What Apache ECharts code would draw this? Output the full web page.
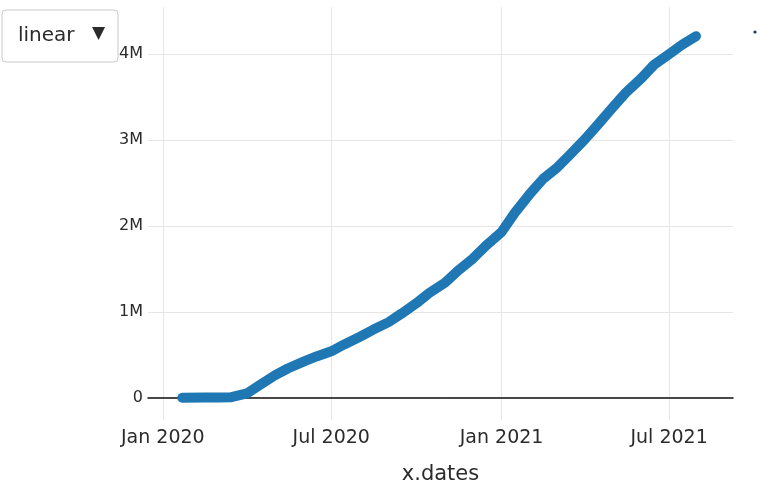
<!DOCTYPE html>
<html>
<head>
<meta charset="utf-8">
<script src="https://cdn.jsdelivr.net/npm/echarts@6/dist/echarts.min.js"></script>
<style>
  html, body { margin: 0; padding: 0; background: #fff; }
  #main { width: 765px; height: 491px; }
</style>
</head>
<body>
<div id="main"></div>
<script>
var dates = [
  '2020-01-22', '2020-02-15', '2020-03-01', '2020-03-15', '2020-04-01', '2020-04-15',
  '2020-05-01', '2020-05-15', '2020-06-01', '2020-06-15', '2020-07-01', '2020-07-15',
  '2020-08-01', '2020-08-15', '2020-09-01', '2020-09-15', '2020-10-01', '2020-10-15',
  '2020-11-01', '2020-11-15', '2020-12-01', '2020-12-15', '2021-01-01', '2021-01-15',
  '2021-02-01', '2021-02-15', '2021-03-01', '2021-03-15', '2021-04-01', '2021-04-15',
  '2021-05-01', '2021-05-15', '2021-06-01', '2021-06-15', '2021-07-01', '2021-07-15',
  '2021-07-30'
];
// values in millions
var values = [
  0, 0.002, 0.003, 0.006, 0.05, 0.15,
  0.26, 0.34, 0.42, 0.48, 0.54, 0.62,
  0.71, 0.79, 0.88, 0.98, 1.10, 1.22,
  1.34, 1.48, 1.62, 1.77, 1.93, 2.15,
  2.38, 2.55, 2.67, 2.82, 3.01, 3.18,
  3.38, 3.55, 3.72, 3.88, 4.00, 4.11,
  4.21
];
var yTicks = [0, 1, 2, 3, 4];
var menuLabel = 'linear';
var xTitle = 'x.dates';

var FONT = 'DejaVu Sans';
var TXT = '#2b2b2b';
var myChart = echarts.init(document.getElementById('main'));

var seriesData = [];
for (var i = 0; i < dates.length; i++) {
  seriesData.push([dates[i], values[i] * 1e6]);
}

var option = {
  animation: false,
  grid: { left: 148, right: 32, top: 7, bottom: 71, outerBoundsMode: 'none', containLabel: false },
  xAxis: {
    type: 'time',
    min: '2019-12-16',
    max: '2021-09-08',
    splitNumber: 3,
    minInterval: 180 * 24 * 3600 * 1000,
    name: xTitle,
    nameLocation: 'middle',
    nameGap: 44,
    nameTextStyle: { fontFamily: FONT, fontSize: 21, color: TXT },
    axisLine: { onZero: true, lineStyle: { color: '#111', width: 1.5 } },
    axisTick: { show: false },
    axisLabel: {
      fontFamily: FONT, fontSize: 19, color: TXT, margin: 9,
      formatter: function (v) { return echarts.time.format(v, '{MMM} {yyyy}', false); }
    },
    splitLine: { show: true, showMinLine: false, showMaxLine: false, lineStyle: { color: '#e6e6e6', width: 1 } }
  },
  yAxis: {
    type: 'value',
    min: -260000,
    max: 4550000,
    splitNumber: 5,
    axisLine: { show: false },
    axisTick: { show: false },
    axisLabel: {
      fontFamily: FONT, fontSize: 16, color: TXT, margin: 5,
      showMinLabel: false, showMaxLabel: false,
      formatter: function (v) {
        if (yTicks.indexOf(v / 1e6) < 0) return '';
        return v === 0 ? '0' : (v / 1e6) + 'M';
      }
    },
    splitLine: { show: true, showMinLine: false, showMaxLine: false, lineStyle: { color: '#e6e6e6', width: 1 } }
  },
  series: [{
    type: 'line',
    data: seriesData,
    showSymbol: false,
    lineStyle: { color: '#1f77b4', width: 10, cap: 'round', join: 'round' },
    itemStyle: { color: '#1f77b4' }
  }],
  graphic: [
    {
      type: 'rect',
      shape: { x: 2, y: 10, width: 116, height: 52, r: 4 },
      style: { fill: '#fff', stroke: '#c8c8c8', lineWidth: 1 },
      z: 100
    },
    {
      type: 'text',
      x: 18, y: 36,
      style: { text: menuLabel, font: '20px "DejaVu Sans"', fill: TXT, verticalAlign: 'middle' },
      z: 101
    },
    {
      type: 'text',
      x: 92, y: 34,
      style: { text: '▼', font: '17px "DejaVu Sans"', fill: TXT, verticalAlign: 'middle' },
      z: 101
    },
    {
      type: 'circle',
      shape: { cx: 755, cy: 32, r: 1.6 },
      style: { fill: '#1e3450' },
      z: 101
    }
  ]
};
myChart.setOption(option);
</script>
</body>
</html>
